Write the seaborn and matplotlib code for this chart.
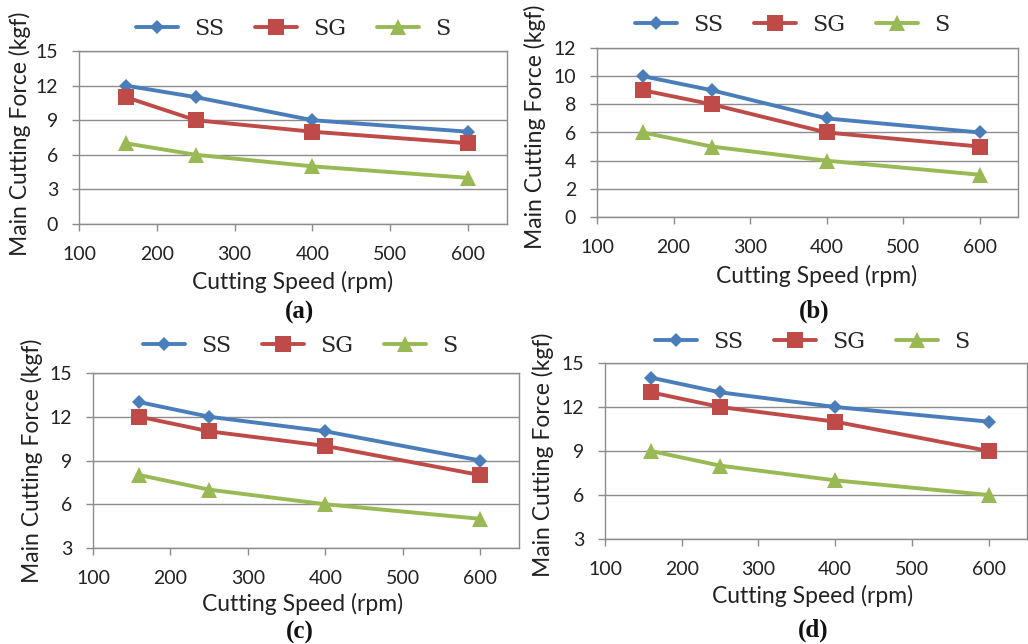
import matplotlib
matplotlib.use("Agg")
import matplotlib.pyplot as plt
import seaborn as sns
import pandas as pd

# Cutting speed (rpm) used for every test series
speed = [160, 250, 400, 600]
series = ["SS", "SG", "S"]

# Main cutting force (kgf) per series, for the four test conditions
ss_a = [12, 11, 9, 8]
sg_a = [11, 9, 8, 7]
s_a = [7, 6, 5, 4]

ss_b = [10, 9, 7, 6]
sg_b = [9, 8, 6, 5]
s_b = [6, 5, 4, 3]

ss_c = [13, 12, 11, 9]
sg_c = [12, 11, 10, 8]
s_c = [8, 7, 6, 5]

ss_d = [14, 13, 12, 11]
sg_d = [13, 12, 11, 9]
s_d = [9, 8, 7, 6]

x_ticks = [100, 200, 300, 400, 500, 600]
y_ticks_a = [0, 3, 6, 9, 12, 15]
y_ticks_b = [0, 2, 4, 6, 8, 10, 12]
y_ticks_c = [3, 6, 9, 12, 15]
y_ticks_d = [3, 6, 9, 12, 15]

panel_labels = ["(a)", "(b)", "(c)", "(d)"]
x_label = "Cutting Speed (rpm)"
y_label = "Main Cutting Force (kgf)"

colors = {"SS": "#4a7ebb", "SG": "#be4b48", "S": "#98b954"}
markers = {"SS": "D", "SG": "s", "S": "^"}
marker_sizes = {"SS": 7.0, "SG": 11.0, "S": 11.0}

W, H = 1028, 644
sns.set_theme(style="white")
plt.rcParams["font.family"] = ["Lato", "DejaVu Sans"]
fig = plt.figure(figsize=(W / 100, H / 100), dpi=100)
fig.patch.set_facecolor("white")


def frac_box(l, t, r, b):
    return [l / W, 1 - b / H, (r - l) / W, (b - t) / H]


panels = [
    dict(data=(ss_a, sg_a, s_a), yt=y_ticks_a, box=(79, 51, 507, 224),
         leg=(293, 29), xl=(293, 282), yl=(20, 134), cap=(300, 312)),
    dict(data=(ss_b, sg_b, s_b), yt=y_ticks_b, box=(597, 48, 1018, 217),
         leg=(792, 25), xl=(817, 276), yl=(535, 127), cap=(814, 311)),
    dict(data=(ss_c, sg_c, s_c), yt=y_ticks_c, box=(93, 373, 519, 548),
         leg=(300, 346), xl=(303, 604), yl=(32, 461), cap=(300, 632)),
    dict(data=(ss_d, sg_d, s_d), yt=y_ticks_d, box=(605, 363, 1027, 539),
         leg=(812, 342), xl=(813, 596), yl=(543, 455), cap=(813, 630)),
]

grid_color = "#8c8c8c"
text_color = "#222222"

for p, cap in zip(panels, panel_labels):
    l, t, r, b = p["box"]
    ax = fig.add_axes(frac_box(l, t, r, b))
    ss, sg, s = p["data"]
    df = pd.DataFrame({
        "speed": speed * 3,
        "force": ss + sg + s,
        "series": ["SS"] * 4 + ["SG"] * 4 + ["S"] * 4,
    })
    sns.lineplot(data=df, x="speed", y="force", hue="series", style="series",
                 hue_order=series, style_order=series, palette=colors,
                 markers=markers, dashes=False, linewidth=2.8,
                 markeredgewidth=0, legend=False, sort=False, ax=ax)
    for line, name in zip(ax.lines, series):
        line.set_markersize(marker_sizes[name])
        line.set_solid_joinstyle("round")

    ax.set_xlim(100, 650)
    ax.set_ylim(p["yt"][0], p["yt"][-1])
    ax.set_xticks(x_ticks)
    ax.set_yticks(p["yt"])
    ax.grid(axis="y", color=grid_color, linewidth=1.0)
    ax.grid(axis="x", visible=False)
    ax.set_axisbelow(True)
    for sp in ax.spines.values():
        sp.set_color(grid_color)
        sp.set_linewidth(1.0)
    ax.tick_params(axis="x", direction="out", length=5, width=1,
                   color=grid_color, pad=10.5, labelsize=14,
                   labelcolor=text_color, bottom=True)
    ax.tick_params(axis="y", direction="out", length=5, width=1,
                   color=grid_color, pad=10, labelsize=14,
                   labelcolor=text_color, left=True)

    ax.set_xlabel(x_label, fontsize=16.5, color=text_color)
    ax.set_ylabel(y_label, fontsize=16.5, color=text_color)
    ax.xaxis.set_label_coords((p["xl"][0] - l) / (r - l),
                              (b - p["xl"][1]) / (b - t))
    ax.xaxis.label.set_va("center")
    ax.yaxis.set_label_coords((p["yl"][0] - l) / (r - l),
                              (b - p["yl"][1]) / (b - t))
    ax.yaxis.label.set_va("center")

    handles = list(ax.lines[:3])
    ax.legend(handles, series, loc="center",
              bbox_to_anchor=(p["leg"][0] / W, 1 - p["leg"][1] / H),
              bbox_transform=fig.transFigure, ncol=3, frameon=False,
              handlelength=1.9, handletextpad=0.7, columnspacing=1.4,
              prop={"family": "DejaVu Serif", "size": 16})

    fig.text(p["cap"][0] / W, 1 - p["cap"][1] / H, cap, ha="center",
             va="center", fontsize=18, fontweight="bold",
             family="Liberation Serif", color="#111111")

fig.savefig("out.png", dpi=100, facecolor="white")
